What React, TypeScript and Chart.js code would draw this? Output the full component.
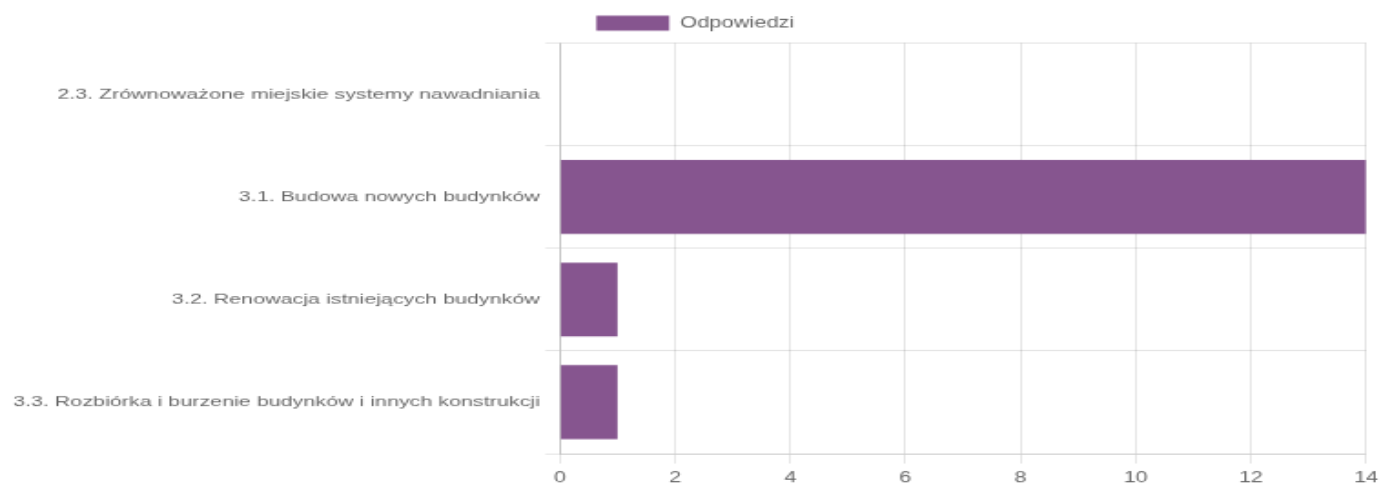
import React, { useEffect, useRef } from "react";
import { Chart, registerables } from "chart.js";

Chart.register(...registerables);

// Survey categories and number of answers per category
const categories: string[] = [
  "2.3. Zrównoważone miejskie systemy nawadniania",
  "3.1. Budowa nowych budynków",
  "3.2. Renowacja istniejących budynków",
  "3.3. Rozbiórka i burzenie budynków i innych konstrukcji",
];
const answers: number[] = [0, 14, 1, 1];
const seriesLabel = "Odpowiedzi";
const xMin = 0;
const xMax = 14;
const xStep = 2;

// The chart is rendered on a smaller backing canvas and stretched to the page size
const RENDER_W = 758;
const RENDER_H = 389;
const DISPLAY_W = 1381;
const DISPLAY_H = 486;

export default function App() {
  const canvasRef = useRef<HTMLCanvasElement | null>(null);

  useEffect(() => {
    const canvas = canvasRef.current;
    if (!canvas) return;
    const family = "'Liberation Sans', Arial, sans-serif";
    const font = { family, size: 12 };
    const chart = new Chart(canvas, {
      type: "bar",
      data: {
        labels: categories,
        datasets: [
          {
            label: seriesLabel,
            data: answers,
            backgroundColor: "#86558f",
            borderWidth: 0,
          },
        ],
      },
      options: {
        indexAxis: "y",
        responsive: false,
        animation: false,
        devicePixelRatio: 1,
        layout: { padding: { top: 2.4, bottom: -5.6, left: 5.3, right: 0 } },
        plugins: {
          legend: {
            display: true,
            position: "top",
            labels: { color: "#666", font, boxWidth: 40 },
          },
          tooltip: { enabled: false },
        },
        scales: {
          x: {
            min: xMin,
            max: xMax,
            ticks: { stepSize: xStep, color: "#666", font, padding: 4.6 },
            grid: { color: "rgba(0,0,0,0.1)" },
            border: { color: "rgba(0,0,0,0.1)" },
            afterFit: (scale: any) => {
              scale.paddingRight = 8.2;
            },
          },
          y: {
            ticks: { color: "#666", font: { family, size: 11.8 } },
            grid: { color: "rgba(0,0,0,0.1)", offset: true },
            border: { color: "rgba(0,0,0,0.15)" },
            afterFit: (scale: any) => {
              scale.width = 302;
            },
          },
        },
      },
    });
    return () => chart.destroy();
  }, []);

  return (
    <div style={{ position: "absolute", left: 0, top: 0, width: DISPLAY_W, height: DISPLAY_H, background: "#fff" }}>
      <canvas
        ref={canvasRef}
        width={RENDER_W}
        height={RENDER_H}
        style={{ width: DISPLAY_W + "px", height: DISPLAY_H + "px", display: "block" }}
      />
    </div>
  );
}
